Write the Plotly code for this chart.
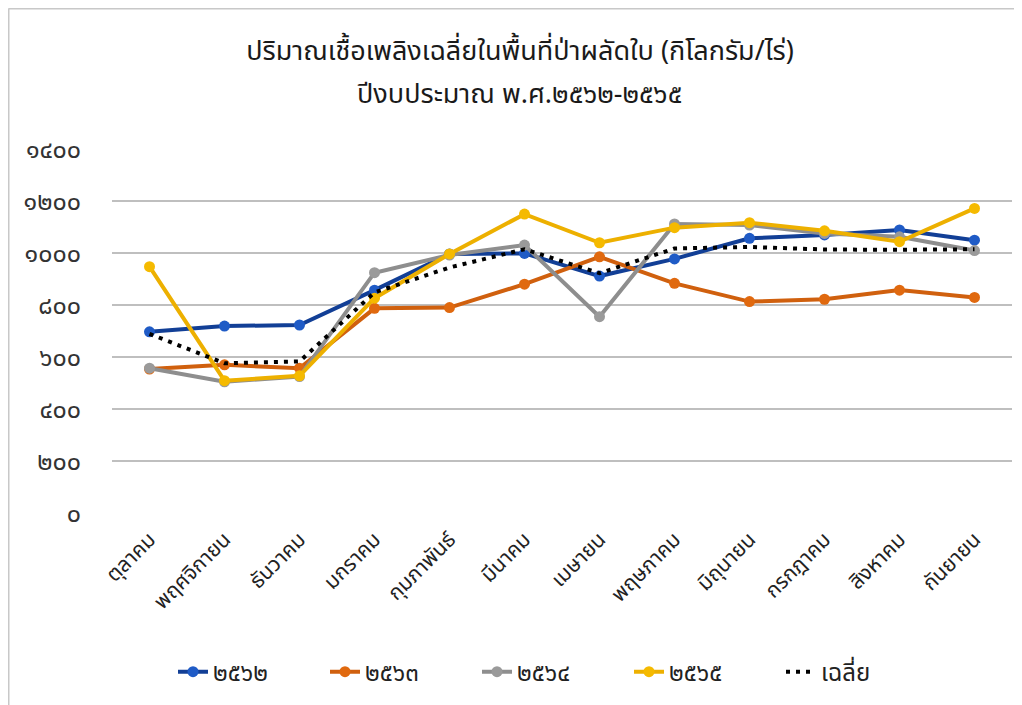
import plotly.graph_objects as go

months = ["ตุลาคม", "พฤศจิกายน", "ธันวาคม", "มกราคม", "กุมภาพันธ์", "มีนาคม",
          "เมษายน", "พฤษภาคม", "มิถุนายน", "กรกฎาคม", "สิงหาคม", "กันยายน"]

y2562 = [697, 719, 723, 857, 996, 998, 911, 977, 1056, 1069, 1088, 1049]
y2563 = [554, 570, 557, 787, 790, 880, 985, 883, 813, 822, 857, 829]
y2564 = [557, 505, 525, 924, 992, 1030, 755, 1111, 1107, 1075, 1062, 1009]
y2565 = [947, 509, 528, 826, 996, 1149, 1039, 1097, 1116, 1085, 1043, 1171]
y_avg = [689, 576, 583, 848, 944, 1014, 922, 1017, 1023, 1013, 1012, 1014]

series_names = ["๒๕๖๒", "๒๕๖๓", "๒๕๖๔", "๒๕๖๕"]
avg_name = "เฉลี่ย"

ytick_vals = [0, 200, 400, 600, 800, 1000, 1200, 1400]
ytick_text = ["๐", "๒๐๐", "๔๐๐", "๖๐๐", "๘๐๐", "๑๐๐๐", "๑๒๐๐", "๑๔๐๐"]

title_line1 = "ปริมาณเชื้อเพลิงเฉลี่ยในพื้นที่ป่าผลัดใบ (กิโลกรัม/ไร่)"
title_line2 = "ปีงบประมาณ พ.ศ.๒๕๖๒-๒๕๖๕"

FONT = "Noto Sans Thai, Tahoma, Leelawadee UI, Noto Sans, DejaVu Sans, sans-serif"

line_colors = ["#123F96", "#D0600E", "#8E8E8E", "#EDB000"]
marker_colors = ["#1F5BC6", "#E0690F", "#9A9A9A", "#F5BA00"]

fig = go.Figure()
for name, ys, lc, mc in zip(series_names, [y2562, y2563, y2564, y2565], line_colors, marker_colors):
    fig.add_trace(go.Scatter(
        x=months, y=ys, name=name, mode="lines+markers",
        line=dict(color=lc, width=4),
        marker=dict(color=mc, size=11, line=dict(width=0)),
    ))
fig.add_trace(go.Scatter(
    x=months, y=y_avg, name=avg_name, mode="lines",
    line=dict(color="black", width=4, dash="4px,6px"),
))

# plot area in figure pixels: x 104..1004, y 140..506
fig.update_layout(
    width=1022, height=705, autosize=False,
    paper_bgcolor="white", plot_bgcolor="white",
    margin=dict(l=104, r=18, t=140, b=199, autoexpand=False),
    font=dict(family=FONT, color="#222222"),
    title=dict(text=title_line1, x=0.501, xanchor="center", xref="container",
               y=0.940, yanchor="middle", yref="container",
               font=dict(size=27, color="#1a1a1a", family=FONT)),
    annotations=[
        dict(text=title_line2, xref="paper", yref="paper", x=0.453, y=1.145,
             xanchor="center", yanchor="middle", showarrow=False,
             font=dict(size=27, color="#1a1a1a", family=FONT)),
    ],
    showlegend=True,
    legend=dict(orientation="h", x=0.49, xanchor="center", xref="paper",
                y=-0.432, yanchor="middle", yref="paper",
                font=dict(size=24, color="#222222"),
                entrywidth=107, entrywidthmode="pixels",
                traceorder="normal"),
    shapes=[
        dict(type="line", xref="paper", yref="paper", x0=-0.115, x1=1.03, y0=1.381, y1=1.381,
             line=dict(color="#C8C8C8", width=2)),
        dict(type="line", xref="paper", yref="paper", x0=-0.115, x1=-0.115, y0=1.381, y1=-0.6,
             line=dict(color="#C8C8C8", width=2)),
    ],
)
fig.update_xaxes(range=[-0.5, 11.5], showgrid=False, showline=False, ticks="", tickangle=-45,
                 tickfont=dict(size=21, color="#222222"), ticklabelstandoff=8,
                 automargin=False)
fig.update_yaxes(range=[-3, 1403], tickvals=ytick_vals, ticktext=ytick_text,
                 showgrid=True, gridcolor="#BFBFBF", gridwidth=2, zeroline=False,
                 showline=False, ticks="", tickfont=dict(size=25, color="#333333"),
                 ticklabelstandoff=30, automargin=False)

fig.write_html("out.html")
